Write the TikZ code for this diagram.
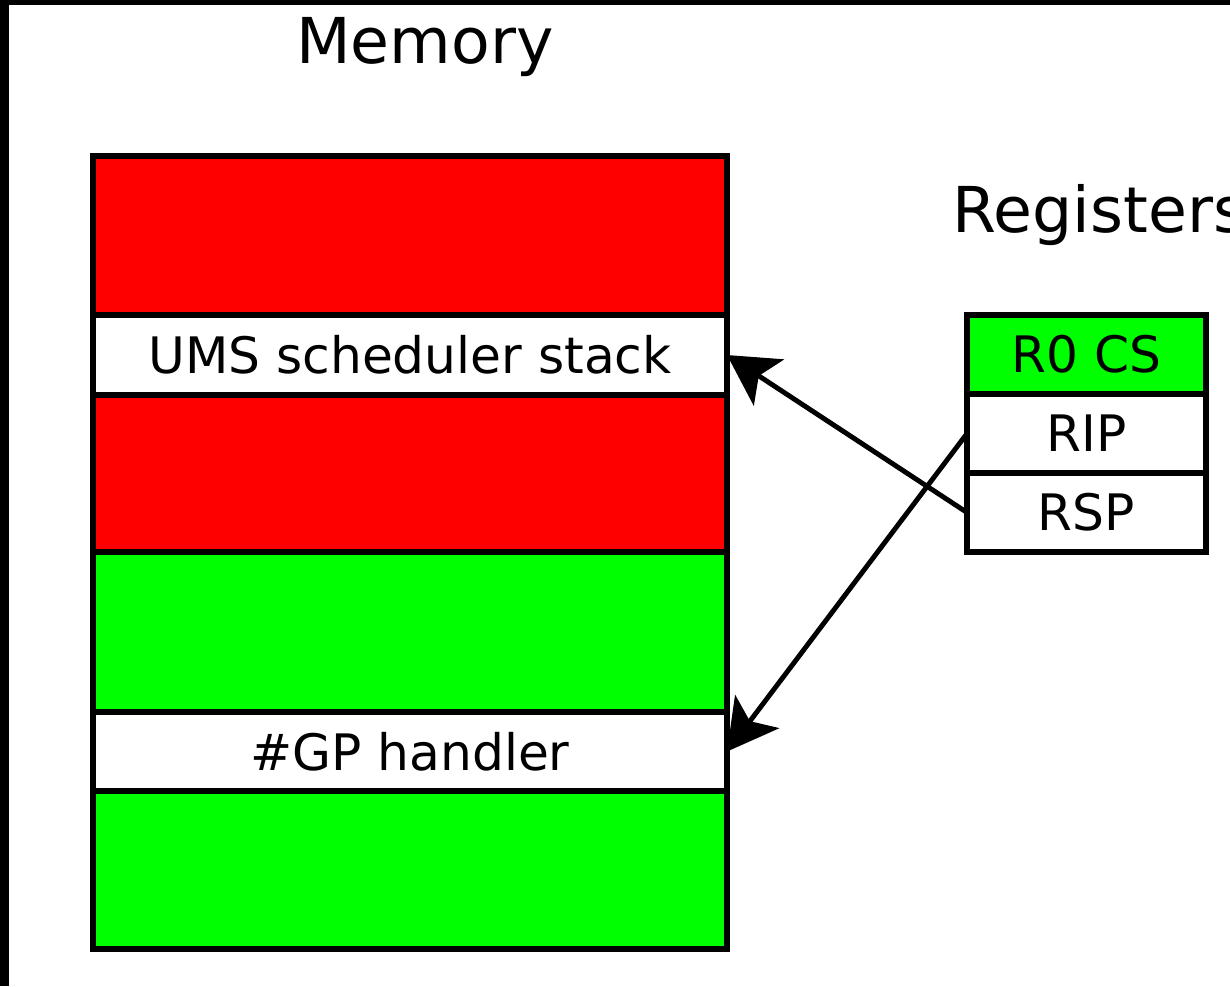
\documentclass[tikz,border=0pt]{standalone}
\usepackage{fontspec}
\setmainfont{DejaVu Sans}
\usetikzlibrary{positioning, arrows.meta}
\definecolor{memred}{RGB}{255,0,0}
\definecolor{memgreen}{RGB}{0,255,0}
\tikzset{
 cell/.style={draw, line width=1.7pt, outer sep=0pt, inner sep=0pt, font=\fontsize{14.3}{16}\selectfont},
 memrow/.style={cell, minimum width=6.34cm, minimum height=#1},
 regrow/.style={cell, minimum width=2.39cm, minimum height=0.79cm},
 heading/.style={font=\fontsize{18}{20}\selectfont, inner sep=0pt},
 ptr/.style={line width=1.4pt, -{Stealth[length=0.5cm, width=0.55cm, inset=0.12cm]}}
}

\begin{document}
\begin{tikzpicture}
\fill[black] (0,0) rectangle (12.30,-9.86);
\fill[white] (0.09,-0.05) rectangle (12.30,-9.86);
\useasboundingbox (0,0) rectangle (12.30,-9.86);
% memory column
\node[memrow=1.59cm, fill=memred, anchor=north west] (m1) at (0.93,-1.56) {};
\node[memrow=0.80cm, fill=white, below=0pt of m1] (ums) {UMS scheduler stack};
\node[memrow=1.57cm, fill=memred, below=0pt of ums] (m3) {};
\node[memrow=1.60cm, fill=memgreen, below=0pt of m3] (m4) {};
\node[memrow=0.79cm, fill=white, below=0pt of m4] (gp) {\#GP handler};
\node[memrow=1.58cm, fill=memgreen, below=0pt of gp] (m6) {};
% registers
\node[regrow, fill=memgreen, anchor=north west] (cs) at (9.67,-3.15) {R0 CS};
\node[regrow, fill=white, below=0pt of cs] (rip) {RIP};
\node[regrow, fill=white, below=0pt of rip] (rsp) {RSP};
\node[heading, anchor=base] (memtitle) at (4.25,-0.63) {Memory};
\node[heading, anchor=base west] (regtitle) at (9.52,-2.32) {Registers};
% pointers
\draw[ptr] (rsp.west) -- (ums.east);
\draw[ptr] (rip.west) -- (gp.east);
\end{tikzpicture}
\end{document}
